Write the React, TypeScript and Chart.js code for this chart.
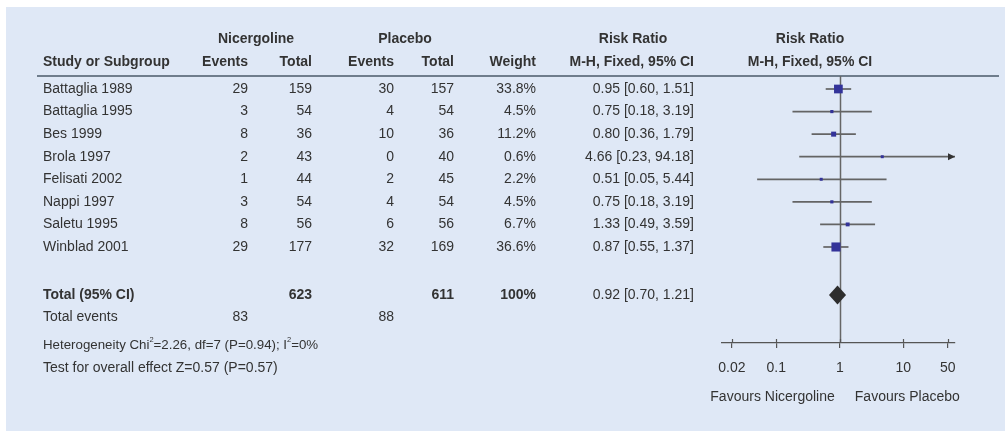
import { useEffect, useRef } from "react";
import { Chart, registerables } from "chart.js";

Chart.register(...registerables);

// Study-level data
const studies = [
  "Battaglia 1989",
  "Battaglia 1995",
  "Bes 1999",
  "Brola 1997",
  "Felisati 2002",
  "Nappi 1997",
  "Saletu 1995",
  "Winblad 2001",
];
const nicEvents = [29, 3, 8, 2, 1, 3, 8, 29];
const nicTotal = [159, 54, 36, 43, 44, 54, 56, 177];
const plaEvents = [30, 4, 10, 0, 2, 4, 6, 32];
const plaTotal = [157, 54, 36, 40, 45, 54, 56, 169];
const weights = [33.8, 4.5, 11.2, 0.6, 2.2, 4.5, 6.7, 36.6];
const riskRatio = [0.95, 0.75, 0.8, 4.66, 0.51, 0.75, 1.33, 0.87];
const ciLow = [0.6, 0.18, 0.36, 0.23, 0.05, 0.18, 0.49, 0.55];
const ciHigh = [1.51, 3.19, 1.79, 94.18, 5.44, 3.19, 3.59, 1.37];

// Pooled result
const totalNic = 623;
const totalPla = 611;
const totalWeight = "100%";
const pooledRR = 0.92;
const pooledLow = 0.7;
const pooledHigh = 1.21;
const totalEventsNic = 83;
const totalEventsPla = 88;

// Axis
const tickValues = [0.02, 0.1, 1, 10, 50];
const axisMin = 0.014;
const axisMax = 65;

// Row positions in row units (same units as the y scale)
const ROW_GROUP = -2.2;
const ROW_HEAD = -1.2;
const ROW_TOTAL = 9.13;
const ROW_EVENTS = 10.1;
const ROW_HET = 11.34;
const ROW_TEST = 12.36;

const FONT = '"Liberation Sans", Arial, Helvetica, sans-serif';
const FS = 14;
const TEXT = "#333333";
const BG = "#dfe8f6";

const COL = {
  study: 43,
  nicEv: 248,
  nicTot: 312,
  plaEv: 394,
  plaTot: 454,
  weight: 536,
  rr: 694,
  nicHead: 256,
  plaHead: 405,
  rrHead: 633,
  plotHead: 810,
};

const fmtCI = (r: number, l: number, h: number) =>
  `${r.toFixed(2)} [${l.toFixed(2)}, ${h.toFixed(2)}]`;

function drawSuperscripted(
  ctx: CanvasRenderingContext2D,
  parts: [string, boolean][],
  x: number,
  y: number
) {
  let cx = x;
  for (const [txt, sup] of parts) {
    if (sup) {
      ctx.font = `7.5px ${FONT}`;
      ctx.fillText(txt, cx, y - 5);
    } else {
      ctx.font = `13.3px ${FONT}`;
      ctx.fillText(txt, cx, y);
    }
    cx += ctx.measureText(txt).width;
  }
}

const forestPlugin = {
  id: "forest",
  beforeDraw(chart: any) {
    const ctx = chart.ctx as CanvasRenderingContext2D;
    ctx.save();
    ctx.fillStyle = "#ffffff";
    ctx.fillRect(0, 0, chart.width, chart.height);
    ctx.fillStyle = BG;
    ctx.fillRect(6, 7, chart.width - 6, 424);
    ctx.restore();
  },
  beforeDatasetsDraw(chart: any) {
    const ctx = chart.ctx as CanvasRenderingContext2D;
    const xs = chart.scales.x;
    const area = chart.chartArea;
    const x1 = Math.round(xs.getPixelForValue(1)) + 0.5;
    ctx.save();
    // header rule
    ctx.strokeStyle = "#6f7d8c";
    ctx.lineWidth = 2;
    ctx.beginPath();
    ctx.moveTo(37, area.top);
    ctx.lineTo(999, area.top);
    ctx.stroke();
    // line of no effect
    ctx.strokeStyle = "#666666";
    ctx.lineWidth = 1.5;
    ctx.beginPath();
    ctx.moveTo(x1, area.top);
    ctx.lineTo(x1, area.bottom);
    ctx.stroke();
    // upper halves of the axis tick marks
    ctx.strokeStyle = "#555555";
    ctx.lineWidth = 1.2;
    for (const v of tickValues) {
      const px = Math.round(xs.getPixelForValue(v)) + 0.5;
      ctx.beginPath();
      ctx.moveTo(px, area.bottom - 4);
      ctx.lineTo(px, area.bottom);
      ctx.stroke();
    }
    ctx.restore();
  },
  afterDatasetsDraw(chart: any) {
    const ctx = chart.ctx as CanvasRenderingContext2D;
    const xs = chart.scales.x;
    const ys = chart.scales.y;
    const area = chart.chartArea;
    ctx.save();
    // arrows for intervals running past the axis
    ctx.fillStyle = "#333333";
    ciHigh.forEach((h, i) => {
      if (h > axisMax) {
        const y = ys.getPixelForValue(i);
        ctx.beginPath();
        ctx.moveTo(area.right, y);
        ctx.lineTo(area.right - 7, y - 3.5);
        ctx.lineTo(area.right - 7, y + 3.5);
        ctx.closePath();
        ctx.fill();
      }
    });
    // pooled estimate diamond
    const yT = ys.getPixelForValue(ROW_TOTAL);
    const xl = xs.getPixelForValue(pooledLow);
    const xm = xs.getPixelForValue(pooledRR);
    const xh = xs.getPixelForValue(pooledHigh);
    ctx.fillStyle = "#2e2e2e";
    ctx.beginPath();
    ctx.moveTo(xl - 1, yT);
    ctx.lineTo(xm, yT - 9.5);
    ctx.lineTo(xh + 1, yT);
    ctx.lineTo(xm, yT + 9.5);
    ctx.closePath();
    ctx.fill();
    ctx.restore();
  },
  afterDraw(chart: any) {
    const ctx = chart.ctx as CanvasRenderingContext2D;
    const ys = chart.scales.y;
    const xs = chart.scales.x;
    const Y = (r: number) => ys.getPixelForValue(r);
    const bold = `bold ${FS}px ${FONT}`;
    const normal = `${FS}px ${FONT}`;
    const put = (t: string, x: number, y: number, align: CanvasTextAlign, f = normal) => {
      ctx.font = f;
      ctx.textAlign = align;
      ctx.fillText(t, x, y);
    };
    ctx.save();
    ctx.fillStyle = TEXT;
    ctx.textBaseline = "middle";

    // headers
    put("Nicergoline", COL.nicHead, Y(ROW_GROUP), "center", bold);
    put("Placebo", COL.plaHead, Y(ROW_GROUP), "center", bold);
    put("Risk Ratio", COL.rrHead, Y(ROW_GROUP), "center", bold);
    put("Risk Ratio", COL.plotHead, Y(ROW_GROUP), "center", bold);
    put("Study or Subgroup", COL.study, Y(ROW_HEAD), "left", bold);
    put("Events", COL.nicEv, Y(ROW_HEAD), "right", bold);
    put("Total", COL.nicTot, Y(ROW_HEAD), "right", bold);
    put("Events", COL.plaEv, Y(ROW_HEAD), "right", bold);
    put("Total", COL.plaTot, Y(ROW_HEAD), "right", bold);
    put("Weight", COL.weight, Y(ROW_HEAD), "right", bold);
    put("M-H, Fixed, 95% CI", COL.rr, Y(ROW_HEAD), "right", bold);
    put("M-H, Fixed, 95% CI", COL.plotHead, Y(ROW_HEAD), "center", bold);

    // study rows
    studies.forEach((s, i) => {
      const y = Y(i);
      put(s, COL.study, y, "left");
      put(String(nicEvents[i]), COL.nicEv, y, "right");
      put(String(nicTotal[i]), COL.nicTot, y, "right");
      put(String(plaEvents[i]), COL.plaEv, y, "right");
      put(String(plaTotal[i]), COL.plaTot, y, "right");
      put(`${weights[i].toFixed(1)}%`, COL.weight, y, "right");
      put(fmtCI(riskRatio[i], ciLow[i], ciHigh[i]), COL.rr, y, "right");
    });

    // totals
    const yT = Y(ROW_TOTAL);
    put("Total (95% CI)", COL.study, yT, "left", bold);
    put(String(totalNic), COL.nicTot, yT, "right", bold);
    put(String(totalPla), COL.plaTot, yT, "right", bold);
    put(totalWeight, COL.weight, yT, "right", bold);
    put(fmtCI(pooledRR, pooledLow, pooledHigh), COL.rr, yT, "right");
    const yE = Y(ROW_EVENTS);
    put("Total events", COL.study, yE, "left");
    put(String(totalEventsNic), COL.nicEv, yE, "right");
    put(String(totalEventsPla), COL.plaEv, yE, "right");

    // heterogeneity and overall effect
    ctx.textAlign = "left";
    drawSuperscripted(
      ctx,
      [
        ["Heterogeneity Chi", false],
        ["2", true],
        ["=2.26, df=7 (P=0.94); I", false],
        ["2", true],
        ["=0%", false],
      ],
      COL.study,
      Y(ROW_HET)
    );
    put("Test for overall effect Z=0.57 (P=0.57)", COL.study, Y(ROW_TEST), "left");

    // favours labels
    const x1 = xs.getPixelForValue(1);
    put("Favours Nicergoline", x1 - 5, 397, "right");
    put("Favours Placebo", x1 + 15, 397, "left");
    ctx.restore();
  },
};

export default function App() {
  const ref = useRef<HTMLCanvasElement>(null);

  useEffect(() => {
    document.body.style.margin = "0";
    const canvas = ref.current;
    if (!canvas) return;

    const ciSets = studies.map((s, i) => ({
      label: s,
      data: [
        { x: ciLow[i], y: i },
        { x: ciHigh[i], y: i },
      ],
      showLine: true,
      borderColor: "#646464",
      borderWidth: 1.7,
      pointRadius: 0,
      order: 1,
    }));

    const squares = {
      label: "Risk ratio",
      data: riskRatio.map((v, i) => ({ x: v, y: i })),
      pointStyle: "rect",
      pointRadius: weights.map((w) => Math.max(2.1, Math.sqrt(w) * 1.06)),
      backgroundColor: "#333399",
      borderWidth: 0,
      order: 0,
    };

    const chart = new Chart(canvas, {
      type: "scatter",
      data: { datasets: [...ciSets, squares] as any },
      options: {
        animation: false,
        responsive: false,
        devicePixelRatio: 1,
        events: [],
        layout: { padding: { left: 722, right: 50, top: 76, bottom: 0 } },
        plugins: { legend: { display: false }, tooltip: { enabled: false } },
        scales: {
          x: {
            type: "logarithmic",
            position: "bottom",
            min: axisMin,
            max: axisMax,
            bounds: "data",
            afterBuildTicks: (s: any) => {
              s.ticks = tickValues.map((v) => ({ value: v }));
            },
            afterFit: (s: any) => {
              s.height = 91;
            },
            grid: {
              drawOnChartArea: false,
              drawTicks: true,
              tickLength: 5,
              color: "#555555",
              lineWidth: 1.2,
            },
            border: { display: true, color: "#555555", width: 1.2 },
            ticks: {
              callback: (v: any) => String(v),
              color: TEXT,
              font: { family: FONT, size: FS },
              padding: 12,
              maxRotation: 0,
              autoSkip: false,
            },
          },
          y: {
            type: "linear",
            display: false,
            reverse: true,
            min: -0.576,
            max: 11.254,
          },
        },
      },
      plugins: [forestPlugin],
    });

    return () => chart.destroy();
  }, []);

  return (
    <canvas
      ref={ref}
      width={1005}
      height={434}
      style={{ display: "block", width: 1005, height: 434 }}
    />
  );
}
